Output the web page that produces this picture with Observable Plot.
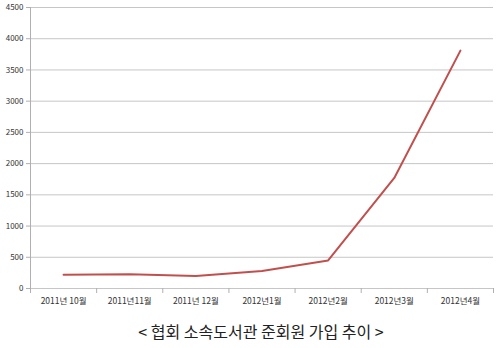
<!DOCTYPE html>
<html><head><meta charset="utf-8">
<script src="https://cdn.jsdelivr.net/npm/d3@7"></script>
<script src="https://cdn.jsdelivr.net/npm/@observablehq/plot@0.6"></script>
<style>
body{margin:0;background:#fff;font-family:"Noto Sans CJK KR","Noto Sans",sans-serif;}
#title{text-align:center;font-size:16px;color:#222;margin-top:9px;padding-left:22px;}
</style>
</head><body>
<div id="chart"></div>
<div id="title">&lt; 협회 소속도서관 준회원 가입 추이 &gt;</div>
<script>
const categories = ["2011년 10월","2011년11월","2011년 12월","2012년1월","2012년2월","2012년3월","2012년4월"];
const values = [220, 230, 200, 280, 450, 1770, 3810];
const yTicks = [0,500,1000,1500,2000,2500,3000,3500,4000,4500];

const idx = categories.map((c,i)=>i);
const bounds = [...idx.map(i=>i-0.5), categories.length-0.5];
const data = categories.map((c,i)=>({i, c, v: values[i]}));

const chart = Plot.plot({
  width: 500, height: 310,
  marginLeft: 30, marginRight: 7, marginTop: 7, marginBottom: 22,
  style: {fontFamily: '"Noto Sans CJK KR","Noto Sans",sans-serif', background: "#fff"},
  x: {domain: [-0.5, categories.length - 0.5], label: null},
  y: {domain: [0, 4500], label: null},
  marks: [
    Plot.gridY(yTicks, {stroke: "#c6c6c6", strokeOpacity: 1}),
    Plot.ruleX([-0.5], {stroke: "#b0b0b0"}),
    Plot.axisY(yTicks, {tickSize: 4, stroke: "#b0b0b0", tickPadding: 3, fontSize: 8, fill: "#333", label: null, tickFormat: d => String(d)}),
    Plot.axisX(bounds, {tickSize: 5, stroke: "#b0b0b0", tickFormat: () => "", label: null}),
    Plot.axisX(idx, {tickSize: 0, tickPadding: 9, fontSize: 8.5, fill: "#333", label: null, tickFormat: i => categories[i]}),
    Plot.lineY(data, {x: "i", y: "v", stroke: "#c0504d", strokeWidth: 2})
  ]
});
document.getElementById("chart").append(chart);
</script>
</body></html>
